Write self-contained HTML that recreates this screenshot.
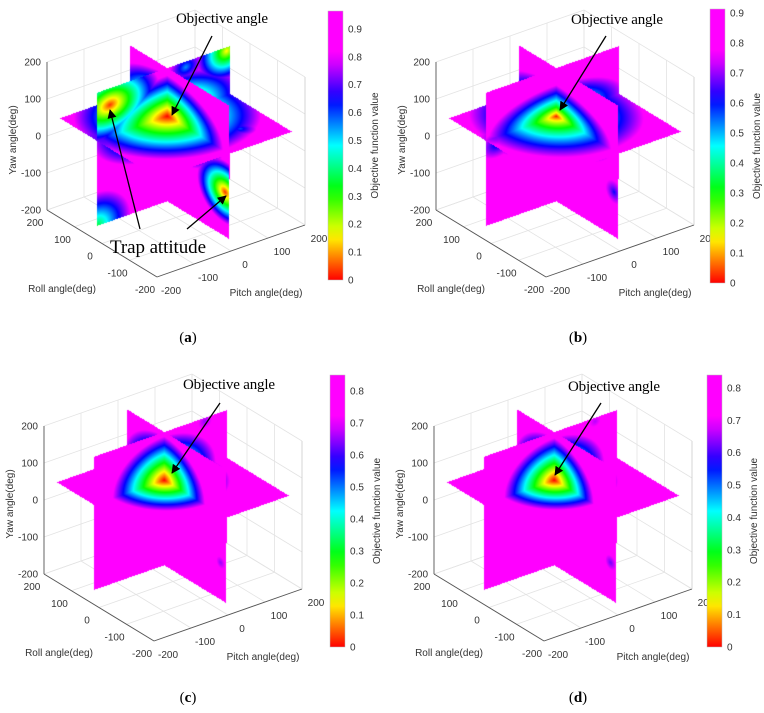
<!DOCTYPE html>
<html><head><meta charset="utf-8">
<style>
html,body{margin:0;padding:0;background:#fff;}
#wrap{position:relative;width:764px;height:713px;overflow:hidden;font-family:"Liberation Sans",sans-serif;}
#wrap svg,#wrap canvas{position:absolute;left:0;top:0;}
</style></head>
<body>
<div id="wrap">
<svg id="bg" width="764" height="713"></svg>
<canvas id="cv" width="764" height="713"></canvas>
<svg id="fg" width="764" height="713">
<defs><marker id="ah" viewBox="0 0 10 10" refX="9" refY="5" markerWidth="9" markerHeight="9" orient="auto" markerUnits="userSpaceOnUse"><path d="M0,0 L10,5 L0,10 z" fill="#000"/></marker></defs>
</svg>
</div>
<script>
// ---- data ----
const panelNames = ['a','b','c','d'];
const panelOffX = [0, 389, -3, 387];
const panelOffY = [0, 0, 364, 364];
const sliceRoll = 45, slicePitch = 10, sliceYaw = 50;
const fieldMax = [0.95, 0.90, 0.84, 0.83];
const colorMax = [0.964, 0.913, 0.85, 0.84];
const fieldShape = [1.0, 0.75, 1.0, 1.0];
const cbTickValues = [[0,0.1,0.2,0.3,0.4,0.5,0.6,0.7,0.8,0.9],[0,0.1,0.2,0.3,0.4,0.5,0.6,0.7,0.8,0.9],[0,0.1,0.2,0.3,0.4,0.5,0.6,0.7,0.8],[0,0.1,0.2,0.3,0.4,0.5,0.6,0.7,0.8]];
const axisTicks = [-200,-100,0,100,200];
// minima of the objective field per panel
const minRoll  = [[45,45,-165,45,45,45,-100],[45,-165,45],[45,-160,45,45],[45,-160,45,45]];
const minPitch = [[10,-145,10,170,-180,60,100],[10,10,-150],[10,10,10,120],[10,10,10,120]];
const minYaw   = [[50,135,-60,170,-180,165,50],[50,-60,30],[50,-80,-170,170],[50,-80,-170,170]];
const minValue = [[0,0.03,0.03,0.15,0.35,0.55,0.6],[0,0.6,0.55],[0,0.65,0.7,0.65],[0,0.62,0.7,0.66]];
const minRadRoll  = [[240,160,120,100,120,70,60],[250,70,90],[175,50,60,60],[170,50,60,60]];
const minRadPitch = [[240,160,120,100,120,70,60],[230,70,90],[165,50,60,60],[160,50,60,60]];
const minRadYaw   = [[130,120,100,100,120,60,60],[105,70,70],[140,50,50,60],[135,50,50,60]];
// colorbar geometry (screen)
const cbX = [328, 710, 330, 707], cbY = [11, 9, 375, 375], cbH = [269, 274, 272, 272];
// annotations
const objText = [[176,23],[571,24],[183,389],[568,391]];
const objArrowFrom = [[212,36],[606,36],[220,403],[601,403]];
const objArrowTo = [[172,115],[560,110],[172,473],[555,475]];

const NS='http://www.w3.org/2000/svg';
const bg=document.getElementById('bg'), fg=document.getElementById('fg');
function mk(parent,tag,attrs,txt){const e=document.createElementNS(NS,tag);for(const k in attrs)e.setAttribute(k,attrs[k]);if(txt!==undefined)e.textContent=txt;parent.appendChild(e);return e;}
function proj(i,r,p,y){return [panelOffX[i]+176-0.275*r+0.37*p, panelOffY[i]+143.5-0.1675*r-0.13*p-0.37*y];}
function hsv(h){const x=1-Math.abs((h/60)%2-1);let r,g,b;if(h<60){r=1;g=x;b=0}else if(h<120){r=x;g=1;b=0}else if(h<180){r=0;g=1;b=x}else if(h<240){r=0;g=x;b=1}else{r=x;g=0;b=1}return [r*255,g*255,b*255];}
function cmap(v,cm){const t=Math.max(0,v/cm);return hsv(Math.min(300,360*t));}
function field(i,r,p,y){let v=fieldMax[i];const n=minRoll[i].length;for(let k=0;k<n;k++){const dr=(r-minRoll[i][k])/minRadRoll[i][k],dp=(p-minPitch[i][k])/minRadPitch[i][k],dy=(y-minYaw[i][k])/minRadYaw[i][k];const d=Math.pow(Math.min(1,Math.sqrt(dr*dr+dp*dp+dy*dy)),fieldShape[i]);const vv=minValue[i][k]+(fieldMax[i]-minValue[i][k])*d;if(vv<v)v=vv;}return v;}

// ---- axes ----
panelNames.forEach((nm,i)=>{
  const g=mk(bg,'g',{});
  
  
  const L=(a,b,col,w)=>{const A=proj(i,...a),B=proj(i,...b);return mk(g,'line',{x1:A[0],y1:A[1],x2:B[0],y2:B[1],stroke:col,'stroke-width':w});};
  axisTicks.forEach(t=>{
    let l;
    l=L([t,-200,-200],[t,200,-200],'#e3e3e3',0.8);  
    l=L([-200,t,-200],[200,t,-200],'#e3e3e3',0.8);  
    l=L([200,t,-200],[200,t,200],'#e3e3e3',0.8);  
    l=L([200,-200,t],[200,200,t],'#e3e3e3',0.8);  
    l=L([t,200,-200],[t,200,200],'#e3e3e3',0.8);  
    l=L([-200,200,t],[200,200,t],'#e3e3e3',0.8);  
  });
  let a;
  a=L([200,-200,-200],[200,-200,200],'#555',0.9);  
  a=L([200,-200,-200],[-200,-200,-200],'#555',0.9);  
  a=L([-200,-200,-200],[-200,200,-200],'#555',0.9);  
  a=L([-200,200,-200],[-200,200,200],'#d0d0d0',0.8);  
  const tx={'font-size':'10px',fill:'#333','font-family':'"Liberation Sans",sans-serif'};
  axisTicks.forEach(t=>{
    const P=proj(i,200,-200,t);
    const e=mk(g,'text',Object.assign({x:P[0]-6,y:P[1]+3.5,'text-anchor':'end'},tx),String(t));
     
    const R=proj(i,t,-200,-200);
    const e2=mk(g,'text',Object.assign({x:R[0]-12,y:R[1]+16,'text-anchor':'middle'},tx),String(t));
     
    const Q=proj(i,-200,t,-200);
    const e3=mk(g,'text',Object.assign({x:Q[0]+14,y:Q[1]+17,'text-anchor':'middle'},tx),String(t));
     
  });
  const ox=panelOffX[i],oy=panelOffY[i];
  let t1=mk(g,'text',Object.assign({x:ox+62,y:oy+292,'text-anchor':'middle'},tx),'Roll angle(deg)');
   
  let t2=mk(g,'text',Object.assign({x:ox+266,y:oy+296,'text-anchor':'middle'},tx),'Pitch angle(deg)');
   
  let t3=mk(g,'text',Object.assign({x:0,y:0,'text-anchor':'middle',transform:`translate(${ox+16},${oy+140}) rotate(-90)`},tx),'Yaw angle(deg)');
   
});

// ---- surfaces ----
const cv=document.getElementById('cv'),ctx=cv.getContext('2d');
const img=ctx.createImageData(764,713),D=img.data;
panelNames.forEach((nm,i)=>{
  const E=180,r0=sliceRoll,p0=slicePitch,y0=sliceYaw;
  const faces=[];
  [1,-1].forEach(a=>[1,-1].forEach(b=>{
    faces.push({key:a+b+1,U:[a*E-r0,0,0],V:[0,b*E-p0,0]});
    faces.push({key:a+1-b,U:[a*E-r0,0,0],V:[0,0,b*E-y0]});
    faces.push({key:a+1-b,U:[0,a*E-p0,0],V:[0,0,b*E-y0]});
  }));
  faces.sort((f,g)=>g.key-f.key);
  const S0=proj(i,r0,p0,y0);
  faces.forEach(f=>{
    const Su=proj(i,r0+f.U[0],p0+f.U[1],y0+f.U[2]),Sv=proj(i,r0+f.V[0],p0+f.V[1],y0+f.V[2]);
    const ux=Su[0]-S0[0],uy=Su[1]-S0[1],vx=Sv[0]-S0[0],vy=Sv[1]-S0[1];
    const det=ux*vy-uy*vx;
    const xs=[S0[0],Su[0],Sv[0],Su[0]+vx],ys=[S0[1],Su[1],Sv[1],Su[1]+vy];
    const x0=Math.max(0,Math.floor(Math.min(...xs))),x1=Math.min(763,Math.ceil(Math.max(...xs)));
    const yA=Math.max(0,Math.floor(Math.min(...ys))),yB=Math.min(712,Math.ceil(Math.max(...ys)));
    for(let py=yA;py<=yB;py++)for(let px=x0;px<=x1;px++){
      const dx=px+0.5-S0[0],dy=py+0.5-S0[1];
      const s=(dx*vy-dy*vx)/det,t=(ux*dy-uy*dx)/det;
      if(s<0||s>1||t<0||t>1)continue;
      const r=r0+s*f.U[0]+t*f.V[0],p=p0+s*f.U[1]+t*f.V[1],y=y0+s*f.U[2]+t*f.V[2];
      const c=cmap(field(i,r,p,y),colorMax[i]);
      const o=(py*764+px)*4;D[o]=c[0];D[o+1]=c[1];D[o+2]=c[2];D[o+3]=255;
    }
  });
});
ctx.putImageData(img,0,0);

// ---- colorbars & annotations ----
const defs=fg.querySelector('defs');
panelNames.forEach((nm,i)=>{
  const gr=mk(defs,'linearGradient',{id:'cb'+nm,x1:0,y1:1,x2:0,y2:0});
  for(let k=0;k<=20;k++){const v=colorMax[i]*k/20;const c=cmap(v,colorMax[i]);mk(gr,'stop',{offset:k/20,'stop-color':`rgb(${c.map(Math.round).join(',')})`});}
  const g=mk(fg,'g',{});
  
  
  const rc=mk(g,'rect',{x:cbX[i],y:cbY[i],width:15,height:cbH[i],fill:`url(#cb${nm})`,stroke:'#bbb','stroke-width':0.5});
   
  const bot=cbY[i]+cbH[i];
  cbTickValues[i].forEach(v=>{
    const yy=bot-v/colorMax[i]*cbH[i];
    const t=mk(g,'text',{x:cbX[i]+20,y:yy+3.5,'font-size':'10px',fill:'#333','font-family':'"Liberation Sans",sans-serif'},String(v));
     
  });
  const ct=mk(g,'text',{x:0,y:0,'text-anchor':'middle','font-size':'10px',fill:'#333','font-family':'"Liberation Sans",sans-serif',transform:`translate(${cbX[i]+50},${cbY[i]+cbH[i]/2}) rotate(-90)`},'Objective function value');
   
  const ot=mk(fg,'text',{x:objText[i][0],y:objText[i][1],'font-size':'15px','font-family':'"Liberation Serif",serif',fill:'#000',textLength:92},'Objective angle');
   
  const ar=mk(fg,'line',{x1:objArrowFrom[i][0],y1:objArrowFrom[i][1],x2:objArrowTo[i][0],y2:objArrowTo[i][1],stroke:'#000','stroke-width':1.3,'marker-end':'url(#ah)'});
   
});
const tt=mk(fg,'text',{x:110,y:253,'font-size':'19px','font-family':'"Liberation Serif",serif',fill:'#000',textLength:96},'Trap attitude');
 
const ta1=mk(fg,'line',{x1:140,y1:229,x2:110,y2:110,stroke:'#000','stroke-width':1.3,'marker-end':'url(#ah)'});
 
const ta2=mk(fg,'line',{x1:187,y1:229,x2:226,y2:196,stroke:'#000','stroke-width':1.3,'marker-end':'url(#ah)'});
 
const subLabels=[['a',188,342],['b',578,342],['c',188,702],['d',578,702]];
subLabels.forEach(s=>{
  const t=mk(fg,'text',{x:s[1],y:s[2],'text-anchor':'middle','font-size':'15px','font-family':'"Liberation Serif",serif',fill:'#000'});
   
  mk(t,'tspan',{},'(');mk(t,'tspan',{'font-weight':'bold'},s[0]);mk(t,'tspan',{},')');
});
</script>
</body></html>
